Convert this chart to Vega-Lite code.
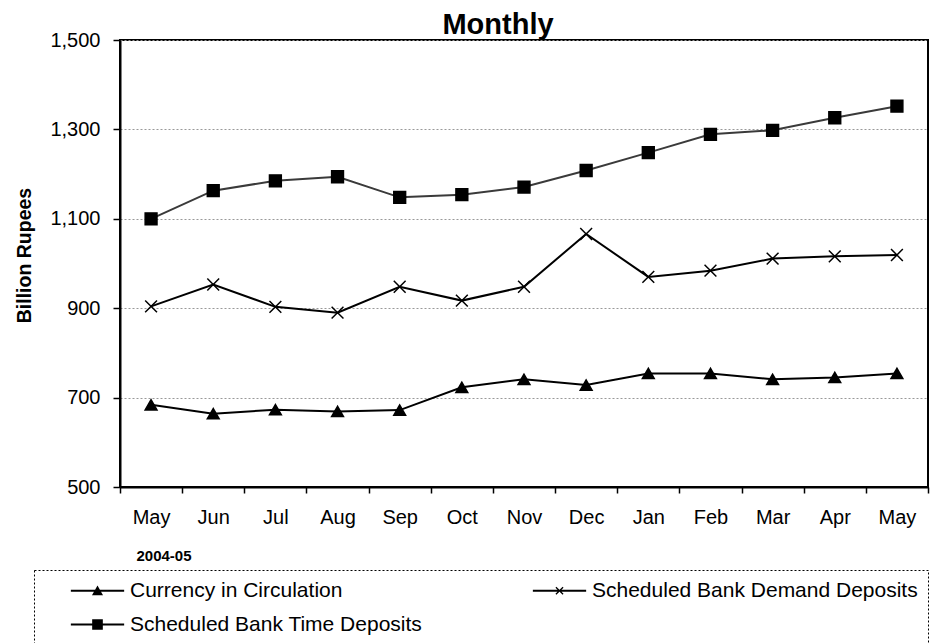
{
  "$schema": "https://vega.github.io/schema/vega-lite/v6.json",
  "width": 808,
  "height": 447,
  "autosize": {"type": "none"},
  "padding": {"left": 120, "top": 40, "right": 11, "bottom": 156},
  "background": "white",
  "config": {
    "font": "Liberation Sans",
    "view": {"stroke": "#000", "strokeWidth": 2},
    "legend": {"strokeDash": [2, 2]}
  },
  "title": {
    "text": "Monthly",
    "fontSize": 29,
    "fontWeight": "bold",
    "color": "#000",
    "anchor": "middle",
    "frame": "group",
    "dx": -26,
    "dy": 35,
    "offset": 2,
    "baseline": "alphabetic"
  },
  "data": {
    "values": [
      {"month": "May 2004", "series": "Currency in Circulation", "value": 684},
      {"month": "Jun 2004", "series": "Currency in Circulation", "value": 664},
      {"month": "Jul 2004", "series": "Currency in Circulation", "value": 673},
      {"month": "Aug 2004", "series": "Currency in Circulation", "value": 669},
      {"month": "Sep 2004", "series": "Currency in Circulation", "value": 672},
      {"month": "Oct 2004", "series": "Currency in Circulation", "value": 723},
      {"month": "Nov 2004", "series": "Currency in Circulation", "value": 741},
      {"month": "Dec 2004", "series": "Currency in Circulation", "value": 728},
      {"month": "Jan 2005", "series": "Currency in Circulation", "value": 754},
      {"month": "Feb 2005", "series": "Currency in Circulation", "value": 754},
      {"month": "Mar 2005", "series": "Currency in Circulation", "value": 741},
      {"month": "Apr 2005", "series": "Currency in Circulation", "value": 745},
      {"month": "May 2005", "series": "Currency in Circulation", "value": 754},
      {"month": "May 2004", "series": "Scheduled Bank Demand Deposits", "value": 904},
      {"month": "Jun 2004", "series": "Scheduled Bank Demand Deposits", "value": 953},
      {"month": "Jul 2004", "series": "Scheduled Bank Demand Deposits", "value": 903},
      {"month": "Aug 2004", "series": "Scheduled Bank Demand Deposits", "value": 890},
      {"month": "Sep 2004", "series": "Scheduled Bank Demand Deposits", "value": 948},
      {"month": "Oct 2004", "series": "Scheduled Bank Demand Deposits", "value": 917},
      {"month": "Nov 2004", "series": "Scheduled Bank Demand Deposits", "value": 948},
      {"month": "Dec 2004", "series": "Scheduled Bank Demand Deposits", "value": 1066},
      {"month": "Jan 2005", "series": "Scheduled Bank Demand Deposits", "value": 970},
      {"month": "Feb 2005", "series": "Scheduled Bank Demand Deposits", "value": 984},
      {"month": "Mar 2005", "series": "Scheduled Bank Demand Deposits", "value": 1011},
      {"month": "Apr 2005", "series": "Scheduled Bank Demand Deposits", "value": 1016},
      {"month": "May 2005", "series": "Scheduled Bank Demand Deposits", "value": 1019},
      {"month": "May 2004", "series": "Scheduled Bank Time Deposits", "value": 1100},
      {"month": "Jun 2004", "series": "Scheduled Bank Time Deposits", "value": 1163},
      {"month": "Jul 2004", "series": "Scheduled Bank Time Deposits", "value": 1185},
      {"month": "Aug 2004", "series": "Scheduled Bank Time Deposits", "value": 1194},
      {"month": "Sep 2004", "series": "Scheduled Bank Time Deposits", "value": 1148},
      {"month": "Oct 2004", "series": "Scheduled Bank Time Deposits", "value": 1154},
      {"month": "Nov 2004", "series": "Scheduled Bank Time Deposits", "value": 1171},
      {"month": "Dec 2004", "series": "Scheduled Bank Time Deposits", "value": 1208},
      {"month": "Jan 2005", "series": "Scheduled Bank Time Deposits", "value": 1248},
      {"month": "Feb 2005", "series": "Scheduled Bank Time Deposits", "value": 1289},
      {"month": "Mar 2005", "series": "Scheduled Bank Time Deposits", "value": 1298},
      {"month": "Apr 2005", "series": "Scheduled Bank Time Deposits", "value": 1326},
      {"month": "May 2005", "series": "Scheduled Bank Time Deposits", "value": 1352}
    ]
  },
  "encoding": {
    "x": {
      "field": "month",
      "type": "ordinal",
      "sort": null,
      "bandPosition": 0.5,
      "scale": {"type": "band", "paddingInner": 0, "paddingOuter": 0},
      "axis": {
        "title": "2004-05",
        "labelExpr": "split(datum.label, ' ')[0]",
        "tickBand": "extent",
        "labelAngle": 0,
        "labelFontSize": 20,
        "labelColor": "#000",
        "labelPadding": 14,
        "tickSize": 6,
        "tickColor": "#000",
        "tickWidth": 1.5,
        "domainColor": "#000",
        "domainWidth": 2,
        "grid": false,
        "titleFontSize": 15,
        "titleFontWeight": "bold",
        "titleColor": "#000",
        "titleAnchor": "start",
        "titleAlign": "left",
        "titleX": 16,
        "titleY": 73,
        "titleBaseline": "alphabetic"
      }
    },
    "y": {
      "field": "value",
      "type": "quantitative",
      "scale": {"domain": [500, 1500], "nice": false, "zero": false},
      "axis": {
        "title": "Billion Rupees",
        "values": [500, 700, 900, 1100, 1300, 1500],
        "format": ",.0f",
        "labelFontSize": 20,
        "labelColor": "#000",
        "labelPadding": 13,
        "tickSize": 7,
        "tickColor": "#000",
        "tickWidth": 1.5,
        "domainColor": "#000",
        "domainWidth": 2,
        "gridColor": "#999",
        "gridDash": [2, 2],
        "gridWidth": 1,
        "titleFontSize": 19.5,
        "titleFontWeight": "bold",
        "titleColor": "#000",
        "titleX": -96,
        "titleY": 215,
        "titleAngle": -90,
        "titleAlign": "center",
        "titleBaseline": "middle"
      }
    }
  },
  "layer": [
    {
      "mark": {"type": "line", "strokeWidth": 2},
      "encoding": {
        "detail": {"field": "series", "type": "nominal"},
        "stroke": {
          "condition": {"test": "datum.series === 'Scheduled Bank Time Deposits'", "value": "#3a3a3a"},
          "value": "#000000"
        }
      }
    },
    {
      "mark": {"type": "point", "filled": true, "size": 140, "fill": "#000", "stroke": "#000", "strokeWidth": 1.5, "opacity": 1},
      "encoding": {
        "shape": {
          "field": "series",
          "type": "nominal",
          "scale": {
            "domain": ["Currency in Circulation", "Scheduled Bank Demand Deposits", "Scheduled Bank Time Deposits"],
            "range": ["triangle-up", "M-1,-1L1,1M-1,1L1,-1", "square"]
          },
          "legend": null
        }
      }
    },
    {
      "mark": {"type": "point", "filled": true, "size": 0, "fill": "#000", "stroke": "#000", "strokeWidth": 1.5},
      "encoding": {
        "shape": {
          "field": "series",
          "type": "nominal",
          "scale": {
            "domain": ["Currency in Circulation", "Scheduled Bank Demand Deposits", "Scheduled Bank Time Deposits"],
            "range": [
              "M-4.1,-0.14H4.1V0.14H-4.1ZM0,-0.8L0.85,0.7H-0.85Z",
              "M-4.1,-0.14H4.1V0.14H-4.1ZM-0.48,-0.62L0.62,0.48L0.48,0.62L-0.62,-0.48ZM-0.62,0.48L0.48,-0.62L0.62,-0.48L-0.48,0.62Z",
              "M-4.1,-0.14H4.1V0.14H-4.1ZM-0.82,-0.82H0.82V0.82H-0.82Z"
            ]
          },
          "legend": {
            "orient": "none",
            "direction": "horizontal",
            "legendX": -86,
            "legendY": 530,
            "columns": 2,
            "title": null,
            "labelFontSize": 21,
            "labelColor": "#000",
            "labelLimit": 600,
            "symbolSize": 169,
            "symbolOffset": 43,
            "labelOffset": 22,
            "columnPadding": 83,
            "rowPadding": 12,
            "padding": 10,
            "strokeColor": "#000",
            "symbolStrokeWidth": 1.5,
            "symbolFillColor": "#000",
            "symbolStrokeColor": "#000",
            "symbolOpacity": 1
          }
        }
      }
    }
  ],
  "resolve": {"scale": {"shape": "independent"}, "legend": {"shape": "independent"}}
}
